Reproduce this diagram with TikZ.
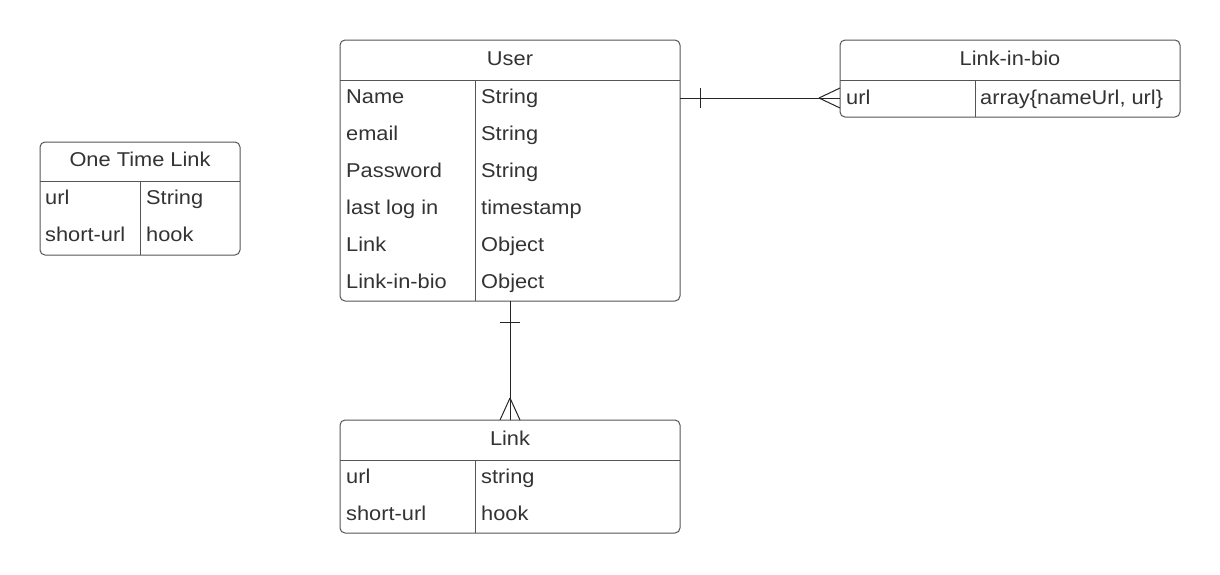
\documentclass[tikz,border=0pt]{standalone}
\usepackage{fontspec}
\setmainfont{Liberation Sans}[FakeStretch=1.09]
\usetikzlibrary{calc}
\definecolor{txt}{HTML}{333333}
\definecolor{edge}{HTML}{555555}
\tikzset{
  tbl/.style={draw=edge, line width=1pt, rounded corners=5pt, inner sep=0pt, outer sep=0pt, fill=white},
  sep/.style={draw=edge, line width=1pt},
  lbl/.style={anchor=base west, inner sep=0pt, text=txt, font=\fontsize{20}{24}\selectfont},
  hdr/.style={anchor=base, inner sep=0pt, text=txt, font=\fontsize{20}{24}\selectfont},
  conn/.style={draw=black!85, line width=1pt},
}
\begin{document}
\begin{tikzpicture}[x=1pt,y=-1pt]
\useasboundingbox[fill=white] (0,0) rectangle (1220,574);

% ---------- User ----------
\node[tbl, minimum width=340pt, minimum height=261pt] (user) at (510,170.5) {};
\draw[sep] (340,80) -- (680,80);
\draw[sep] (475,80) -- (475,301);
\node[hdr] (userh) at (510,65) {User};
\node[lbl] (u1a) at (346,103) {Name};        \node[lbl] (u1b) at (481,103) {String};
\node[lbl] (u2a) at (346,140) {email};       \node[lbl] (u2b) at (481,140) {String};
\node[lbl] (u3a) at (346,177) {Password};    \node[lbl] (u3b) at (481,177) {String};
\node[lbl] (u4a) at (346,214) {last log in}; \node[lbl] (u4b) at (481,214) {timestamp};
\node[lbl] (u5a) at (346,251) {Link};        \node[lbl] (u5b) at (481,251) {Object};
\node[lbl] (u6a) at (346,288) {Link-in-bio}; \node[lbl] (u6b) at (481,288) {Object};

% ---------- Link-in-bio ----------
\node[tbl, minimum width=340pt, minimum height=77pt] (bio) at (1010,78.5) {};
\draw[sep] (840,80) -- (1180,80);
\draw[sep] (975,80) -- (975,117);
\node[hdr] (bioh) at (1010,65) {Link-in-bio};
\node[lbl] (b1a) at (846,104) {url};
\node[lbl] (b1b) at (980,104) {array\{nameUrl, url\}};

% ---------- One Time Link ----------
\node[tbl, minimum width=200pt, minimum height=113pt] (otl) at (140,198.5) {};
\draw[sep] (40,181) -- (240,181);
\draw[sep] (140,181) -- (140,255);
\node[hdr] (otlh) at (140,166) {One Time Link};
\node[lbl] (o1a) at (45,204) {url};       \node[lbl] (o1b) at (146,204) {String};
\node[lbl] (o2a) at (45,241) {short-url}; \node[lbl] (o2b) at (146,241) {hook};

% ---------- Link ----------
\node[tbl, minimum width=340pt, minimum height=113pt] (link) at (510,476.5) {};
\draw[sep] (340,460) -- (680,460);
\draw[sep] (475,460) -- (475,533);
\node[hdr] (linkh) at (510,445) {Link};
\node[lbl] (l1a) at (346,483) {url};       \node[lbl] (l1b) at (481,483) {string};
\node[lbl] (l2a) at (346,520) {short-url}; \node[lbl] (l2b) at (481,520) {hook};

% ---------- connectors ----------
\coordinate (cu) at (user.east |- 0,98);
\coordinate (cb) at (bio.west |- 0,98);
\draw[conn] (cu) -- (cb);
\draw[conn] ($(cu)+(20,-10)$) -- ($(cu)+(20,10)$);
\draw[conn] ($(cb)+(-21,0)$) -- ($(cb)+(0,-10)$);
\draw[conn] ($(cb)+(-21,0)$) -- ($(cb)+(0,10)$);

\coordinate (cv) at (510,301);
\coordinate (cl) at (510,420);
\draw[conn] (cv) -- (cl);
\draw[conn] ($(cv)+(-10,21)$) -- ($(cv)+(10,21)$);
\draw[conn] ($(cl)+(0,-22)$) -- ($(cl)+(-10,0)$);
\draw[conn] ($(cl)+(0,-22)$) -- ($(cl)+(10,0)$);
\end{tikzpicture}
\end{document}
